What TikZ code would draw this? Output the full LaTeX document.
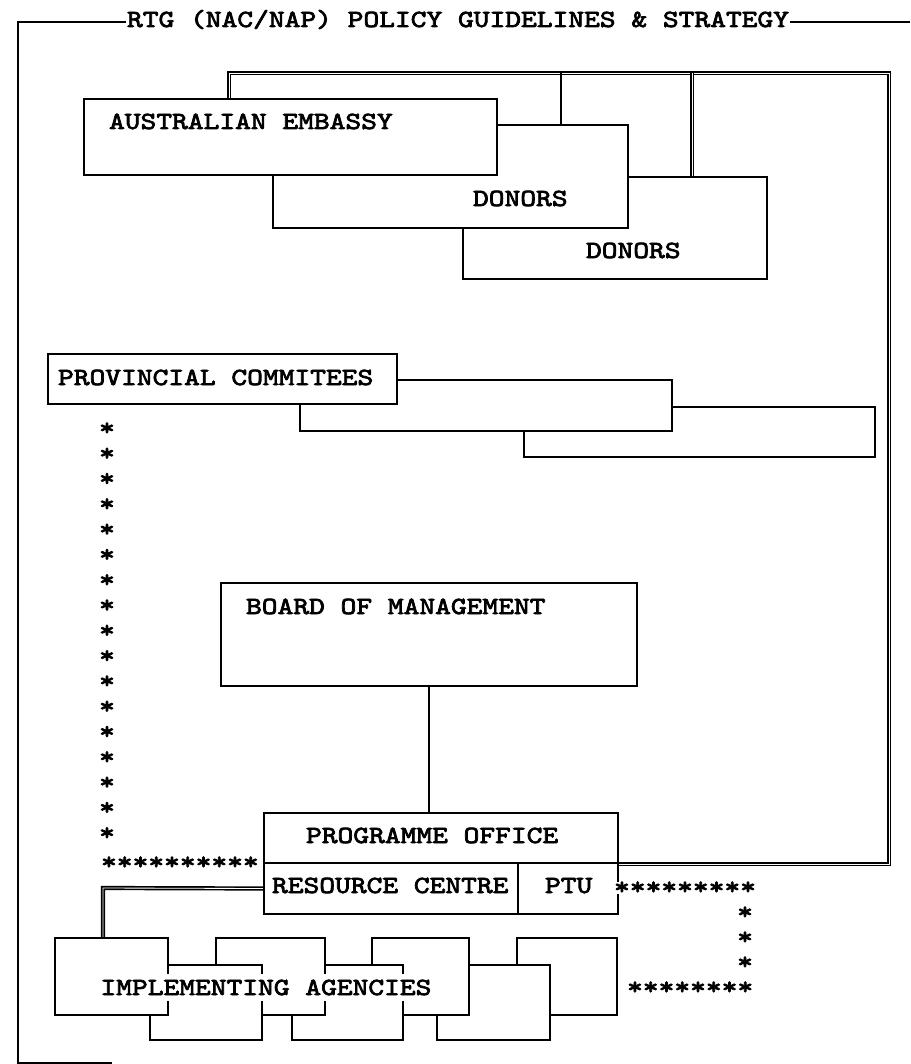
\documentclass[tikz,border=0pt]{standalone}
\usepackage{fontspec}
\newfontfamily\typewriter{lmmono10-regular}[Extension=.otf, FakeStretch=1.22, FakeBold=3]
\usetikzlibrary{positioning, calc, fit}
\tikzset{
  every picture/.style={line width=1.5pt},
  box/.style={draw, fill=white, inner sep=0pt},
  txt/.style={font={\fontsize{17.5}{20}\typewriter}, inner sep=0pt, anchor=base west},
  stars/.style={font={\fontsize{17.5}{20}\typewriter}, inner sep=0pt},
  dbl/.style={double, double distance=0.6pt, line width=1.2pt},
}
\begin{document}
\begin{tikzpicture}[x=0.025cm, y=-0.025cm]
  \useasboundingbox (0,0) rectangle (910,1064);
  % frame
  \node[txt] (title) at (126,27) {RTG (NAC/NAP) POLICY GUIDELINES \& STRATEGY};
  \coordinate (fl) at (18,22);
  \draw (title.west |- fl) -- (fl) -- (18,1063) -- (112,1063);
  \draw (title.east |- fl) -- (910,22);
  % links to the top
  \coordinate (tl) at (229,73);
  \coordinate (tr) at (889,73);
  \coordinate (t1) at (561,73);
  \coordinate (t2) at (692,73);
  \node[box, fit={(84,99) (497,175)}] (emb) {};
  \node[box, fit={(463,177) (767,279)}] (don2) {};
  \node[box, fit={(273,125) (628,228)}] (don1) {};
  \node[box, fit={(264,813) (618,863)}] (po) {};
  \draw[dbl] (tl |- emb.north) -- (tl) -- (tr) |- (po.south east);
  \draw (t1) -- (t1 |- don1.north);
  \draw[dbl] (t2) -- (t2 |- don2.north);
  \node[box, fit={(273,125) (628,228)}] {};
  \node[box, fit={(84,99) (497,175)}] {};
  % provincial row
  \node[box, fit={(524,407) (875,457)}] (prov3) {};
  \node[box, fit={(300,380) (672,431)}] (prov2) {};
  \node[box, fit={(48,354) (397,404)}] (prov) {};
  % board and office
  \node[box, fit={(221,583) (637,686)}] (bom) {};
  \node[box, fit={(264,863) (518,914)}] (rc) {};
  \node[box, fit={(518,863) (618,914)}] (ptu) {};
  \draw (bom.south) -- (bom.south |- po.north);
  \coordinate (rj) at (103,888);
  % implementing agencies, back to front
  \foreach \n/\a/\b in {7/{517,938}/{617,1015}, 6/{437,965}/{550,1040}, 5/{372,938}/{469,1015},
                        4/{292,965}/{403,1040}, 3/{216,938}/{325,1015}, 2/{150,965}/{262,1040},
                        1/{55,938}/{168,1015}}
    \node[box, fit={(\a) (\b)}] (ia\n) {};
  \draw[dbl] (rc.west) -- (rj) -- (rj |- ia1.north);
  % labels
  \node[txt] (embt) at (108,129) {AUSTRALIAN EMBASSY};
  \node[txt] (don1t) at (472,206) {DONORS};
  \node[txt] (don2t) at (585,258) {DONORS};
  \node[txt] (provt) at (57,385) {PROVINCIAL COMMITEES};
  \node[txt] (bomt) at (245,614) {BOARD OF MANAGEMENT};
  \node[txt] (pot) at (305,843) {PROGRAMME OFFICE};
  \node[txt] (rct) at (271,893) {RESOURCE CENTRE};
  \node[txt] (ptut) at (544,893) {PTU};
  \node[txt, fill=white, inner xsep=1pt, inner ysep=4pt] (iat) at (98,995) {IMPLEMENTING AGENCIES};
  % stars
  \foreach \k in {0,...,16} \node[stars] (sl\k) at (107,{429+25.3*\k}) {*};
  \node[stars, anchor=west] (srow1) at (100,863) {**********};
  \node[stars, anchor=west, fill=white] (srow2) at (613,888) {*********};
  \foreach \k in {0,1,2} \node[stars] (sr\k) at (745,{913+25*\k}) {*};
  \node[stars, anchor=west] (srow3) at (626,988) {********};
\end{tikzpicture}
\end{document}
